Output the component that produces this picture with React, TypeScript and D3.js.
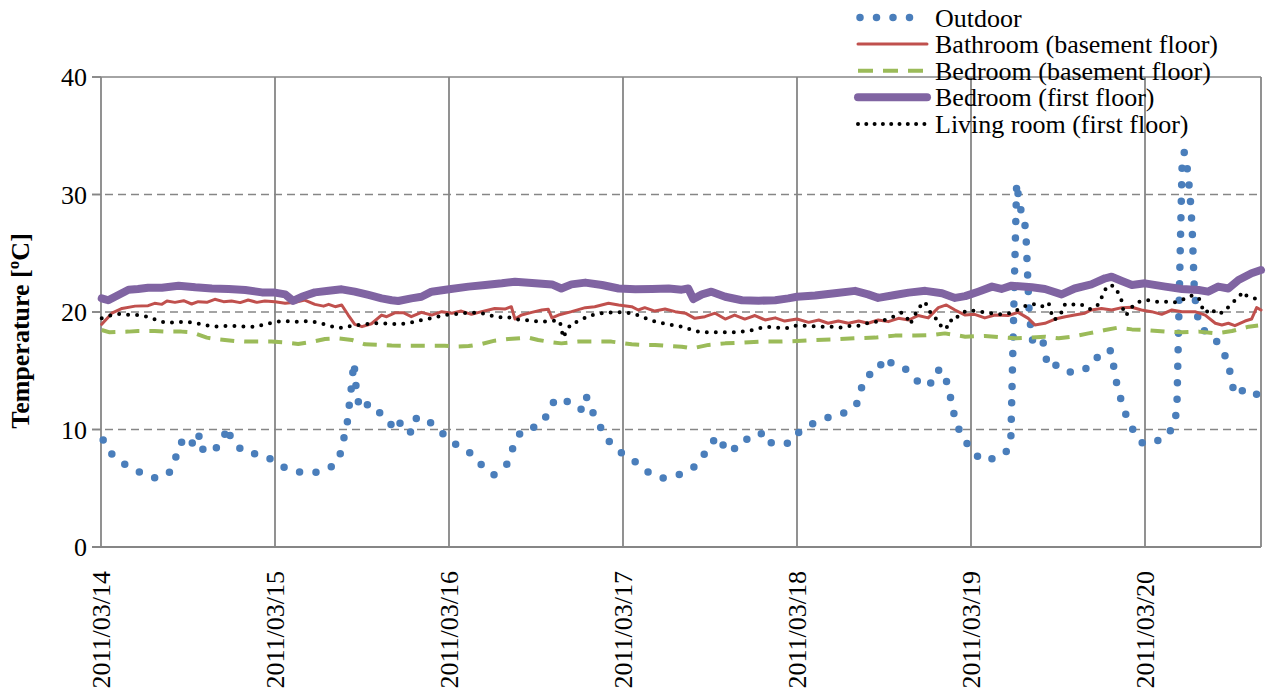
import React from 'react';
import * as d3 from 'd3';

// hours since 2011/03/14 00:00, temperature [ºC]
const outdoor: [number, number][] = [
  [0.3,9.1],[1.5,7.9],[3.2,7.06],[5.2,6.4],[7.3,5.87],[9.3,6.2],[10.2,7.3],[10.7,8.7],[12.1,9.4],[12.9,8.5],
  [13.6,9.56],[14.1,8.2],[15.4,8.1],[16.9,9.1],[17.3,10.2],[18.2,8.9],[19.9,8.0],[22,7.9],[24,7.3],[25.8,6.55],
  [28.1,6.3],[30.4,6.4],[32.3,7.0],[33.2,8.2],[33.6,9.6],[34.1,11.0],[34.3,12.5],[34.6,13.9],[34.8,15.3],[34.9,15.7],
  [35.1,14.2],[35.3,12.8],[35.8,11.7],[36.7,12.1],[37.7,12.1],[38.8,11.1],[39.7,10.7],[40.6,9.9],[41.4,10.7],[42.8,9.7],
  [43.5,10.95],[44.7,11.0],[46.1,10.2],[47.6,9.4],[49.4,8.5],[51.2,7.9],[52.6,6.9],[54.2,6.15],[56,7.06],[56.8,8.4],
  [57.7,9.6],[58.9,10.2],[60.1,10.2],[61.4,11.1],[62.4,12.3],[63.2,12.6],[63.8,12.7],[65.1,11.9],[66.3,11.7],[66.9,12.85],
  [67.8,11.5],[68.8,10.3],[70,9.05],[71.6,8.1],[73.6,7.3],[75.4,6.4],[77.4,5.85],[79.7,6.15],[81.7,6.75],[83,7.7],
  [84.2,8.9],[85.3,9.4],[86.2,8.1],[87.5,8.4],[88.7,9.2],[89.8,9.1],[91.2,9.7],[92,8.8],[93.2,9.0],[94.9,8.8],
  [96.3,9.8],[98.2,10.5],[100.2,11.0],[102.2,11.3],[104.2,12.1],[104.8,13.4],[105.6,14.6],[107.2,14.9],[107.9,16.1],[109.4,15.5],
  [110.7,15.3],[112,14.55],[113.2,13.7],[114.4,13.9],[115.2,15.06],[116.3,15.0],[116.8,13.6],[117.4,12.2],[117.8,10.8],[118.7,9.5],
  [120,8.3],[121.5,7.35],[123.2,7.55],[124.8,8.0],[125.5,9.3],[126.3,31.0],[126.7,29.05],[127.4,27.7],[127.6,26.3],[128.0,20.3],
  [128.4,17.6],[129.8,17.9],[130.2,16.6],[130.6,15.3],[131.9,15.5],[133.4,14.9],[135.0,14.9],[136.8,15.5],[137.9,16.65],[139.3,16.7],
  [139.7,15.3],[140.1,13.9],[140.7,12.5],[141.4,11.2],[142.4,9.9],[143.7,8.8],[145.5,9.0],[147.0,9.4],[148.1,10.5],[148.4,11.9],
  [149.1,32.2],[149.4,33.6],[149.7,32.9],[150.2,30.1],[150.5,27.2],[150.8,22.0],[151.1,20.0],[151.7,18.6],[153.4,17.9],[154.7,16.8],
  [155.6,15.4],[155.9,14.0],[156.5,12.9],[157.9,13.5],[159.4,13.0],[160,12.9]
];

const bathroomBasement: [number, number][] = [
  [0.1,18.95],[1.5,19.9],[2.9,20.3],[4.7,20.5],[6.5,20.54],[7.4,20.74],[8.4,20.65],[9.1,20.94],[10.2,20.82],[11.4,20.96],
  [12.5,20.68],[13.4,20.88],[14.6,20.82],[15.7,21.08],[16.9,20.88],[18,20.94],[19.2,20.8],[20.3,21.02],[21.5,20.82],[22.6,20.94],
  [24,20.88],[25.4,20.74],[26.8,20.82],[28.1,21.02],[29.5,20.65],[30.7,20.5],[31.4,20.65],[32.3,20.45],[33.2,20.6],[34.1,19.74],
  [35,18.95],[36,18.75],[37.3,19.0],[38.7,19.74],[39.4,19.6],[40.6,19.94],[41.7,19.94],[42.8,19.6],[44.2,19.97],[45.6,19.74],
  [47,20.03],[48.4,19.9],[49.7,20.08],[51.1,19.8],[52.5,20.03],[54.3,20.3],[55.7,20.25],[56.6,20.45],[57.1,19.4],[58,19.74],
  [59.4,19.97],[60.8,20.17],[61.7,20.23],[62.2,19.5],[63.1,19.74],[64.9,20.03],[66.8,20.37],[68.1,20.45],[70,20.74],[71.4,20.6],
  [73.2,20.45],[74.1,20.17],[75,20.37],[76.4,20.08],[77.8,20.25],[79.2,20.03],[80.6,19.9],[81.9,19.46],[83.3,19.6],[84.7,19.9],
  [86.1,19.4],[87.4,19.74],[88.8,19.4],[90.2,19.7],[91.6,19.32],[93,19.5],[94.3,19.23],[96,19.4],[97.6,19.12],[99,19.32],
  [100.3,19.04],[101.7,19.23],[103.1,19.04],[104.5,19.23],[105.8,19.04],[107.2,19.32],[108.6,19.18],[110,19.46],[111.4,19.32],[112.7,19.7],
  [114.1,19.5],[115.5,20.37],[116.6,20.6],[117.8,20.17],[119.2,19.74],[120.5,19.8],[121.9,19.5],[123.3,19.74],[125.1,19.7],[126.5,19.97],
  [127.9,19.46],[128.8,18.9],[130.2,19.04],[131.6,19.4],[133,19.6],[134.3,19.74],[135.7,19.9],[136.6,20.17],[138,20.3],[139.4,20.17],
  [140.8,20.37],[142.2,20.4],[143.5,20.17],[144.9,20.03],[146.3,19.8],[147.7,20.17],[149.1,20.03],[150.9,20.03],[152.3,19.74],[153.7,19.04],
  [154.6,18.9],[155.5,19.04],[156.4,18.84],[157.8,19.23],[158.7,19.4],[159.4,20.37],[160,20.17]
];

const bedroomBasement: [number, number][] = [
  [0.1,18.47],[1.2,18.27],[3.8,18.33],[5.1,18.38],[7.4,18.38],[9.1,18.33],[11.1,18.33],[12.5,18.27],[14.6,17.82],[16.2,17.67],
  [18.5,17.53],[19.9,17.48],[22.2,17.48],[23.5,17.48],[25.6,17.39],[27.2,17.28],[29.3,17.48],[30.9,17.7],[32.7,17.76],[34.6,17.62],
  [36.4,17.25],[38.3,17.2],[40.1,17.15],[41.9,17.13],[44.7,17.13],[47.4,17.13],[48.8,17.05],[50.7,17.1],[52.5,17.28],[54.3,17.56],
  [56.2,17.7],[58.9,17.82],[60.3,17.62],[62.2,17.42],[63.5,17.33],[65.8,17.48],[68.6,17.48],[70.4,17.48],[73.2,17.25],[74.6,17.2],
  [76.4,17.2],[77.8,17.13],[80.1,17.05],[81.5,16.9],[83.8,17.2],[86.1,17.33],[88.4,17.39],[91.1,17.48],[93.9,17.48],[96,17.53],
  [98.5,17.62],[101.2,17.67],[104,17.76],[106.8,17.82],[109.5,17.99],[112.3,17.99],[114.6,18.04],[116.4,18.18],[117.8,18.04],[119.2,17.9],
  [121.9,17.96],[124.2,17.84],[126.1,17.76],[128.4,17.82],[130.2,17.9],[132.1,17.76],[133.9,17.9],[136.2,18.18],[138.5,18.47],[140.3,18.67],
  [142.2,18.52],[144,18.47],[146.8,18.33],[149.1,18.27],[151.4,18.33],[153.7,18.18],[156,18.38],[158.3,18.75],[159.6,18.85]
];

const bedroomFirst: [number, number][] = [
  [0.1,21.16],[1,21.0],[2.4,21.45],[3.8,21.9],[5.1,21.96],[6.5,22.07],[8.4,22.07],[10.7,22.24],[13,22.1],[15.3,22.0],
  [17.6,21.96],[19.9,21.87],[22.2,21.67],[24,21.65],[25.4,21.5],[26.5,20.94],[27.7,21.3],[29.5,21.67],[31.4,21.8],[33.2,21.93],
  [35,21.73],[36.9,21.45],[38.7,21.16],[40.1,21.0],[41,20.94],[42.8,21.16],[44.2,21.3],[45.6,21.73],[48,21.93],[50.7,22.16],
  [53,22.3],[55.3,22.44],[57.1,22.58],[59.9,22.44],[62.2,22.35],[63.5,22.0],[64.9,22.35],[66.8,22.5],[69.1,22.3],[71.4,22.0],
  [73.7,21.93],[76,21.96],[78.3,22.0],[80.1,21.9],[81,22.0],[81.7,21.1],[82.9,21.5],[84.2,21.73],[86.1,21.3],[88.4,21.0],
  [90.7,20.96],[93,21.0],[94.8,21.16],[96,21.3],[98.5,21.4],[101.2,21.6],[104,21.8],[105.8,21.5],[107.2,21.2],[109.5,21.45],
  [111.4,21.65],[113.7,21.8],[116,21.6],[117.8,21.2],[119.2,21.35],[121,21.73],[122.9,22.16],[124.2,21.96],[125.6,22.24],[128.4,22.1],
  [130.2,21.96],[132.5,21.5],[134.3,22.0],[136.6,22.35],[138.5,22.87],[139.4,23.0],[140.8,22.64],[142.2,22.3],[144,22.44],[146.8,22.16],
  [149.1,21.96],[151.4,21.87],[152.7,21.73],[154.1,22.16],[155.5,22.0],[156.9,22.72],[158.7,23.3],[160,23.57]
];

const livingFirst: [number, number][] = [
  [0.1,19.46],[1.5,19.74],[2.6,19.83],[4,19.74],[5.1,19.74],[6.4,19.6],[7.7,19.32],[8.8,19.1],[10.1,19.1],[11.4,19.18],
  [12.6,19.1],[13.9,18.95],[15,18.8],[16.3,18.75],[17.6,18.84],[18.9,18.8],[20.1,18.75],[21.4,18.75],[22.6,18.95],[23.8,19.12],
  [25.1,19.23],[26.3,19.18],[27.5,19.18],[28.7,19.23],[30,19.1],[31.2,18.9],[32.4,18.67],[33.7,18.67],[34.9,18.9],[36.2,18.9],
  [37.3,19.04],[38.7,19.04],[40,19.0],[41,18.95],[42.4,19.04],[43.6,19.23],[44.8,19.4],[46.1,19.52],[47.2,19.74],[48.6,19.8],
  [49.7,19.9],[51,19.94],[52.3,19.94],[53.5,19.74],[54.8,19.55],[55.9,19.6],[57.1,19.38],[58.5,19.32],[59.7,19.23],[60.9,19.18],
  [62.2,19.26],[63.3,19.23],[63.5,18.5],[63.8,17.8],[64.1,18.3],[64.9,19.04],[66,19.23],[67.2,19.66],[68.4,19.83],[69.5,19.94],
  [70.8,19.97],[72,19.97],[73.2,19.9],[74.4,19.66],[75.7,19.32],[77,19.1],[78.2,18.95],[79.4,18.84],[80.6,18.67],[81.9,18.38],
  [83.2,18.27],[84.5,18.27],[85.7,18.27],[87,18.27],[88.2,18.33],[89.4,18.38],[90.7,18.6],[91.9,18.75],[93.2,18.67],[94.5,18.6],
  [95.6,18.84],[96.9,18.84],[98.2,18.8],[99.4,18.75],[100.7,18.75],[101.9,18.67],[103.2,18.8],[104.5,18.84],[105.6,19.04],[106.9,19.18],
  [108.1,19.32],[109.3,19.6],[110.4,19.94],[111.1,19.6],[111.6,18.95],[112.2,19.66],[112.7,20.3],[113.6,20.88],[114.1,20.37],[114.6,19.66],
  [115.5,19.32],[116,18.6],[116.6,18.6],[117.1,19.32],[117.6,19.18],[118.4,19.8],[119.5,20.14],[120.8,20.08],[122,19.97],[123.3,19.83],
  [124.5,19.8],[125.7,19.94],[126.8,20.3],[127.9,20.65],[128.9,20.65],[129.7,20.45],[130.7,20.8],[131,20.03],[131.5,19.32],[132.4,19.83],
  [132.8,20.6],[133.7,20.74],[134.5,20.54],[135.3,20.6],[136.3,20.25],[137.2,20.37],[137.9,20.94],[138.2,21.65],[139,22.3],[139.9,22.16],
  [140.8,20.94],[141,20.17],[141.4,19.7],[142,20.3],[142.9,20.82],[144.2,21.02],[145.5,20.88],[146.8,20.88],[148,20.8],[149.1,21.02],
  [150.3,21.4],[151.4,21.25],[151.8,20.5],[152.3,19.9],[153.1,20.3],[153.9,19.8],[155,20.03],[155.8,20.68],[156.8,21.16],[157.5,21.73],
  [158,21.4],[158.7,21.25],[159.4,21.1]
];

const yTicks = [0, 10, 20, 30, 40];
const dayLabels = ['2011/03/14', '2011/03/15', '2011/03/16', '2011/03/17', '2011/03/18', '2011/03/19', '2011/03/20'];
const seriesNames = ['Outdoor', 'Bathroom (basement floor)', 'Bedroom (basement floor)', 'Bedroom (first floor)', 'Living room (first floor)'];

const FONT = "'Liberation Serif', 'DejaVu Serif', serif";
const GRID = '#868686';

export default function App() {
  const W = 1266, H = 700;
  const left = 101, right = 1261, top = 77, bottom = 547;
  const endHour = 160;
  const x = d3.scaleLinear().domain([0, endHour]).range([left, right]);
  const y = d3.scaleLinear().domain([0, 40]).range([bottom, top]);
  const line = d3.line<[number, number]>().x(d => x(d[0])).y(d => y(d[1]));
  const dayHours = dayLabels.map((_, i) => i * 24);

  const styles = [
    { data: outdoor, stroke: '#4A7EBB', width: 7.5, dash: '0 16.5', cap: 'round' },
    { data: bathroomBasement, stroke: '#C0504D', width: 3, dash: null, cap: 'round' },
    { data: bedroomBasement, stroke: '#9BBB59', width: 4, dash: '14 10', cap: 'butt' },
    { data: bedroomFirst, stroke: '#8064A2', width: 8, dash: null, cap: 'round' },
    { data: livingFirst, stroke: '#000000', width: 4, dash: '0 9', cap: 'round' },
  ];

  const legendX0 = 858, legendX1 = 927, legendTextX = 935;
  const legendY = (i: number) => 17.5 + i * 26.6;
  const txt = { fontFamily: FONT };

  return (
    <svg width={W} height={H} style={{ position: 'absolute', left: 0, top: 0, background: '#fff', fontFamily: FONT }}>
      <rect x={0} y={0} width={W} height={H} fill="#fff" />
      {yTicks.map(t => (
        <line key={'h' + t} x1={left - 9} x2={right} y1={y(t)} y2={y(t)} stroke={GRID} strokeWidth={1.6}
          strokeDasharray={t === 0 || t === 40 ? undefined : '8 5'} />
      ))}
      {yTicks.map(t => (
        <line key={'tk' + t} x1={left - 9} x2={left} y1={y(t)} y2={y(t)} stroke={GRID} strokeWidth={1.6} />
      ))}
      {dayHours.concat([endHour]).map(h => (
        <line key={'v' + h} x1={x(h)} x2={x(h)} y1={top} y2={bottom} stroke={GRID} strokeWidth={1.8} />
      ))}
      <line x1={left - 9} x2={right} y1={bottom} y2={bottom} stroke={GRID} strokeWidth={2} />

      {styles.map((s, i) => (
        <path key={'s' + i} d={line(s.data) || ''} fill="none" stroke={s.stroke} strokeWidth={s.width}
          strokeDasharray={s.dash || undefined} strokeLinecap={s.cap as any} strokeLinejoin="round" />
      ))}

      {yTicks.map(t => (
        <text key={'yl' + t} style={txt} x={87} y={y(t)} dy="0.35em" textAnchor="end" fontSize={26} fill="#000">{t}</text>
      ))}
      <text style={txt} transform={`translate(29,331) rotate(-90)`} textAnchor="middle" fontSize={26} fontWeight="bold" fill="#000">Temperature [ºC]</text>

      {dayLabels.map((lab, i) => (
        <text key={'xl' + i} style={txt} transform={`translate(${x(dayHours[i]) + 9},571) rotate(-90)`} textAnchor="end" fontSize={26} fill="#000">{lab}</text>
      ))}

      {styles.map((s, i) => (
        <g key={'lg' + i}>
          <line x1={i === 0 ? 860 : legendX0} x2={i === 0 ? 911 : legendX1} y1={legendY(i)} y2={legendY(i)}
            stroke={s.stroke} strokeWidth={s.width} strokeDasharray={i === 2 ? '15 10' : (i === 4 ? '0 8.3' : (s.dash || undefined))}
            strokeLinecap={s.cap as any} />
          <text style={txt} x={legendTextX} y={legendY(i) + 9} fontSize={26} fill="#000">{seriesNames[i]}</text>
        </g>
      ))}
    </svg>
  );
}
